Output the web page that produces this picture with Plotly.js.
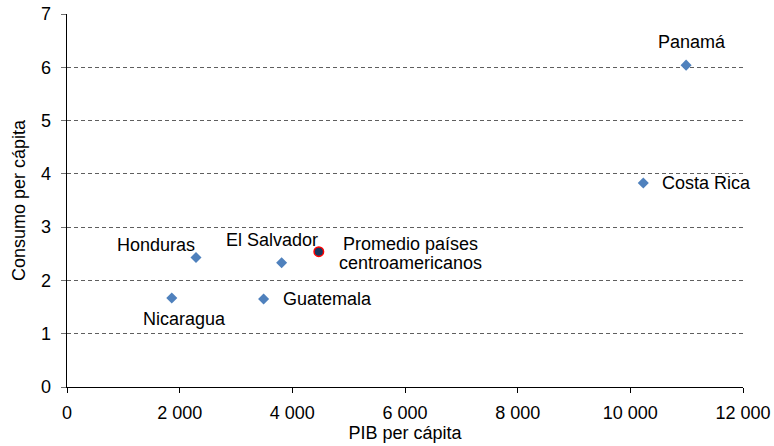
<!DOCTYPE html>
<html>
<head>
<meta charset="utf-8">
<script src="https://cdn.plot.ly/plotly-3.0.1.min.js"></script>
<style>
  html, body { margin: 0; padding: 0; background: #ffffff; }
  #chart { width: 774px; height: 446px; }
</style>
</head>
<body>
<div id="chart"></div>
<script>
// ---- data ----
const countries = ['Nicaragua', 'Honduras', 'Guatemala', 'El Salvador', 'Costa Rica', 'Panamá'];
const pibPerCapita = [1860, 2290, 3490, 3810, 10230, 10990];
const consumoPerCapita = [1.67, 2.43, 1.65, 2.33, 3.83, 6.04];

const promedioLabel = ['Promedio países', 'centroamericanos'];
const promedioPib = [4470];
const promedioConsumo = [2.54];

const xTickValues = [0, 2000, 4000, 6000, 8000, 10000, 12000];
const yTickValues = [0, 1, 2, 3, 4, 5, 6, 7];
const xTitle = 'PIB per cápita';
const yTitle = 'Consumo per cápita';

// ---- label placement (style only) ----
const labelStyle = {
  'Nicaragua':   {xanchor: 'center', xshift: 13,  yshift: -21},
  'Honduras':    {xanchor: 'right',  xshift: 1,   yshift: 13},
  'Guatemala':   {xanchor: 'left',   xshift: 17,  yshift: 0},
  'El Salvador': {xanchor: 'center', xshift: -10, yshift: 23},
  'Costa Rica':  {xanchor: 'left',   xshift: 17,  yshift: 0},
  'Panamá':      {xanchor: 'center', xshift: 6,   yshift: 23}
};

const FONT = 'Liberation Sans, Arial, sans-serif';
const FS = 18;

const annotations = [];
countries.forEach((c, i) => {
  const s = labelStyle[c];
  annotations.push({
    x: pibPerCapita[i], y: consumoPerCapita[i], xref: 'x', yref: 'y',
    text: c, showarrow: false, xanchor: s.xanchor, yanchor: 'middle',
    xshift: s.xshift, yshift: s.yshift,
    font: {family: FONT, size: FS, color: '#000'}
  });
});
const promShift = [8, -11];
promedioLabel.forEach((t, k) => {
  annotations.push({
    x: promedioPib[0], y: promedioConsumo[0], xref: 'x', yref: 'y',
    text: t, showarrow: false, xanchor: 'center', yanchor: 'middle',
    xshift: 92, yshift: promShift[k],
    font: {family: FONT, size: FS, color: '#000'}
  });
});

const traces = [
  {
    type: 'scatter', mode: 'markers',
    x: pibPerCapita, y: consumoPerCapita, text: countries,
    marker: {symbol: 'diamond', size: 8.5, color: '#4F81BD', line: {width: 0}},
    hoverinfo: 'text+x+y', showlegend: false, cliponaxis: false
  },
  {
    type: 'scatter', mode: 'markers',
    x: promedioPib, y: promedioConsumo, text: [promedioLabel.join(' ')],
    marker: {symbol: 'circle', size: 9.5, color: '#17375E', line: {width: 1.5, color: '#FF0000'}},
    hoverinfo: 'text+x+y', showlegend: false, cliponaxis: false
  }
];

const layout = {
  width: 774, height: 446,
  margin: {l: 67, r: 31, t: 14, b: 59, pad: 0},
  paper_bgcolor: '#ffffff', plot_bgcolor: '#ffffff',
  separators: ', ',
  font: {family: FONT, size: FS, color: '#000'},
  showlegend: false,
  xaxis: {
    range: [0, 12000], tickvals: xTickValues, tickformat: ',d', separatethousands: true,
    showgrid: false, zeroline: false,
    showline: true, linecolor: '#000', linewidth: 1.3,
    ticks: 'outside', ticklen: 5, tickcolor: '#000', tickwidth: 1,
    ticklabelstandoff: 4,
    tickfont: {family: FONT, size: FS, color: '#000'},
    title: {text: xTitle, font: {family: FONT, size: FS, color: '#000'}, standoff: 1},
    fixedrange: true
  },
  yaxis: {
    range: [0, 7], tickvals: yTickValues,
    showgrid: true, gridcolor: '#5f5f5f', gridwidth: 1, griddash: '4px,3px',
    zeroline: false,
    showline: true, linecolor: '#000', linewidth: 1.3,
    ticks: 'outside', ticklen: 5, tickcolor: '#6f6f6f', tickwidth: 1,
    ticklabelstandoff: 6,
    tickfont: {family: FONT, size: FS, color: '#000'},
    title: {text: yTitle, font: {family: FONT, size: FS, color: '#000'}, standoff: 10},
    fixedrange: true
  },
  annotations: annotations
};

Plotly.newPlot('chart', traces, layout, {displayModeBar: false, staticPlot: true});
</script>
</body>
</html>
